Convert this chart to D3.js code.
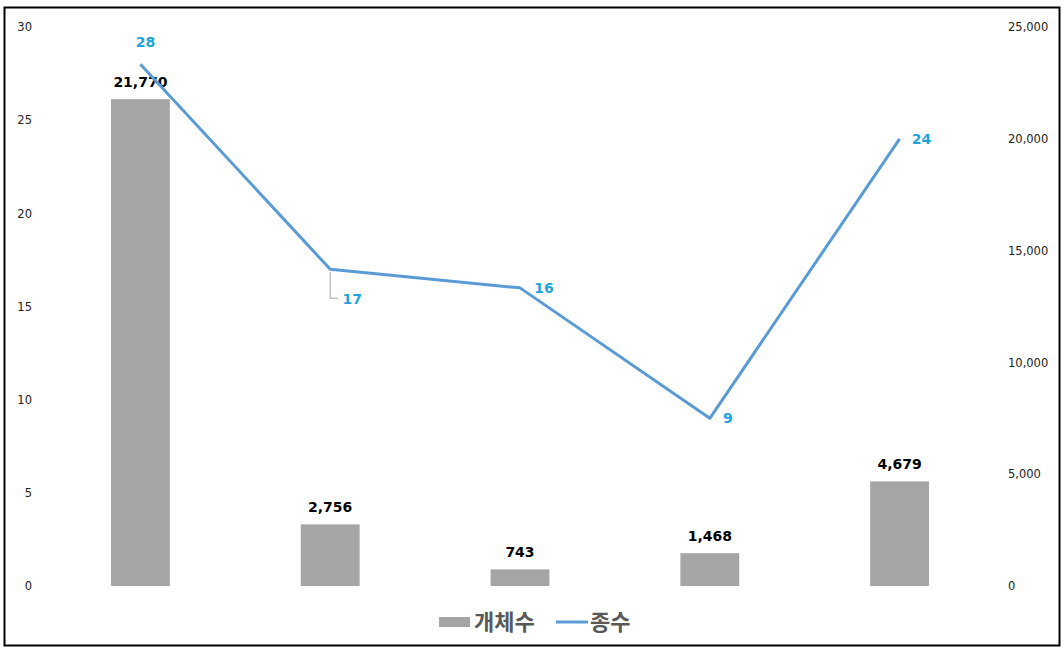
<!DOCTYPE html>
<html><head><meta charset="utf-8">
<script src="https://cdn.jsdelivr.net/npm/d3@7"></script>
<style>body{margin:0;background:#fff}svg{display:block}</style>
</head><body>
<svg id="c" width="1063" height="647"></svg>
<script>
const categories = ["A","B","C","D","E"];
const countValues = [21770, 2756, 743, 1468, 4679];   // 개체수 (bars, right axis)
const speciesValues = [28, 17, 16, 9, 24];            // 종수 (line, left axis)
const leftTicks = [0,5,10,15,20,25,30];
const rightTicks = [0,5000,10000,15000,20000,25000];
const seriesNames = ["개체수","종수"];

const svg = d3.select("#c");
svg.append("rect").attr("x",4.5).attr("y",7.5).attr("width",1055).attr("height",638)
  .attr("fill","#fff").attr("stroke","#000").attr("stroke-width",2);

const x = d3.scaleBand().domain(categories).range([45.5,994.5]).paddingInner(0.69).paddingOuter(0.345);
const yL = d3.scaleLinear().domain([0,30]).range([586,27]);
const yR = d3.scaleLinear().domain([0,25000]).range([586,27]);
const font = "'DejaVu Sans',sans-serif";

// left axis
const gl = svg.append("g").attr("transform","translate(32,0)")
  .call(d3.axisLeft(yL).tickValues(leftTicks).tickSize(0).tickPadding(0));
gl.select(".domain").remove();
gl.selectAll("text").attr("font-family",font).attr("font-size",11.5).attr("fill","#222");

// right axis
const gr = svg.append("g").attr("transform","translate(1008,0)")
  .call(d3.axisRight(yR).tickValues(rightTicks).tickSize(0).tickPadding(0).tickFormat(d3.format(",")));
gr.select(".domain").remove();
gr.selectAll("text").attr("font-family",font).attr("font-size",11.5).attr("fill","#222");

// bars
svg.selectAll(".bar").data(categories).join("rect")
  .attr("x",d=>x(d)).attr("width",x.bandwidth())
  .attr("y",(d,i)=>yR(countValues[i])).attr("height",(d,i)=>yR(0)-yR(countValues[i]))
  .attr("fill","#a5a5a5");
svg.selectAll(".blab").data(categories).join("text")
  .attr("x",d=>x(d)+x.bandwidth()/2).attr("y",(d,i)=>yR(countValues[i])-12)
  .attr("text-anchor","middle").attr("font-family",font).attr("font-size",14).attr("font-weight","bold").attr("fill","#000")
  .text((d,i)=>d3.format(",")(countValues[i]));

// line
const cx = d=>x(d)+x.bandwidth()/2;
svg.append("path").datum(categories)
  .attr("d",d3.line().x(cx).y((d,i)=>yL(speciesValues[i])))
  .attr("fill","none").attr("stroke","#5b9bd5").attr("stroke-width",3).attr("stroke-linejoin","round");

// leader line for label 17
svg.append("path")
  .attr("d",`M${cx("B")},${yL(17)+3} V${yL(17)+29} H${cx("B")+8}`)
  .attr("fill","none").attr("stroke","#a6a6a6").attr("stroke-width",1);

const lblOff = [[5,-17],[22,35],[24,5],[18,5],[22,5]];
svg.selectAll(".llab").data(categories).join("text")
  .attr("x",(d,i)=>cx(d)+lblOff[i][0]).attr("y",(d,i)=>yL(speciesValues[i])+lblOff[i][1])
  .attr("text-anchor","middle").attr("font-family",font).attr("font-size",14).attr("font-weight","bold").attr("fill","#1ea4dc")
  .text((d,i)=>speciesValues[i]);

// legend
const lg = svg.append("g");
const lfont = "'Noto Sans CJK KR',sans-serif";
lg.append("rect").attr("x",439).attr("y",617).attr("width",31).attr("height",10).attr("fill","#a5a5a5");
lg.append("text").attr("x",474).attr("y",630).attr("font-family",lfont).attr("font-size",22).attr("font-weight",700).attr("fill","#595959").text(seriesNames[0]);
lg.append("line").attr("x1",556).attr("x2",588).attr("y1",622).attr("y2",622).attr("stroke","#5b9bd5").attr("stroke-width",3);
lg.append("text").attr("x",590).attr("y",630).attr("font-family",lfont).attr("font-size",22).attr("font-weight",700).attr("fill","#595959").text(seriesNames[1]);
</script>
</body></html>
